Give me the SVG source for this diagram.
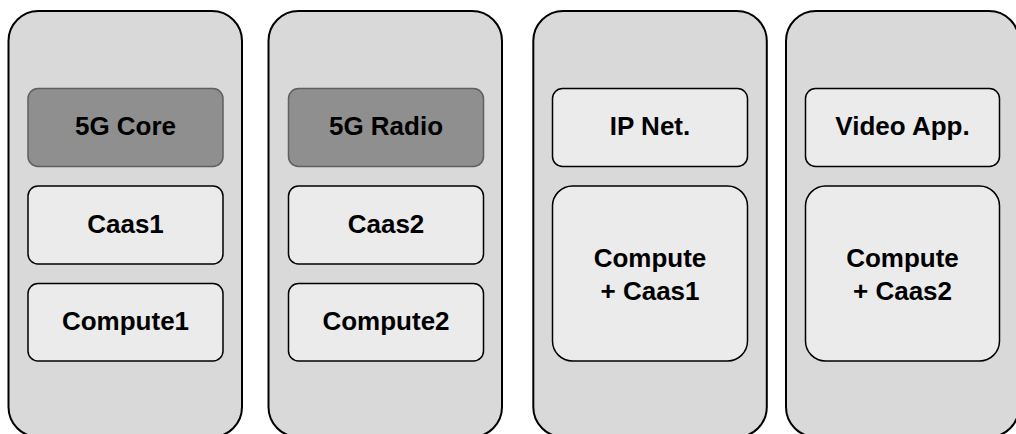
<svg xmlns="http://www.w3.org/2000/svg" width="1016" height="434" viewBox="0 0 1016 434">
<style>
.cont{fill:#d9d9d9;stroke:#000;stroke-width:2}
.dark{fill:#8f8f8f;stroke:#5f5f5f;stroke-width:1.5}
.light{fill:#ebebeb;stroke:#000;stroke-width:1.5}
.t{font-family:"Liberation Sans",Arial,sans-serif;font-weight:bold;font-size:26px;fill:#000;text-anchor:middle}
</style>
<rect width="1016" height="434" fill="#ffffff"/>
<g id="container1">
<rect class="cont" x="8.5" y="11" width="233.5" height="426" rx="30"/>
<g id="core5g"><rect class="dark" x="28" y="88.5" width="195" height="78" rx="10"/><text class="t" x="125.5" y="135">5G Core</text></g>
<g id="caas1"><rect class="light" x="28" y="186" width="195" height="78" rx="10"/><text class="t" x="125.5" y="233">Caas1</text></g>
<g id="compute1"><rect class="light" x="28" y="283.5" width="195" height="77.5" rx="10"/><text class="t" x="125.5" y="330">Compute1</text></g>
</g>
<g id="container2">
<rect class="cont" x="268.5" y="11" width="233.5" height="426" rx="30"/>
<g id="radio5g"><rect class="dark" x="288.5" y="88.5" width="195" height="78" rx="10"/><text class="t" x="386" y="135">5G Radio</text></g>
<g id="caas2"><rect class="light" x="288.5" y="186" width="195" height="78" rx="10"/><text class="t" x="386" y="233">Caas2</text></g>
<g id="compute2"><rect class="light" x="288.5" y="283.5" width="195" height="77.5" rx="10"/><text class="t" x="386" y="330">Compute2</text></g>
</g>
<g id="container3">
<rect class="cont" x="533.3" y="11" width="233.5" height="426" rx="30"/>
<g id="ipnet"><rect class="light" x="552.5" y="88.5" width="195" height="78" rx="10"/><text class="t" x="650" y="135">IP Net.</text></g>
<g id="computecaas1"><rect class="light" x="552.5" y="186" width="195" height="175" rx="20"/><text class="t" x="650" y="267">Compute</text><text class="t" x="650" y="299.5">+ Caas1</text></g>
</g>
<g id="container4">
<rect class="cont" x="786" y="11" width="233" height="426" rx="30"/>
<g id="videoapp"><rect class="light" x="805.5" y="88.5" width="194" height="78" rx="10"/><text class="t" x="902.5" y="135">Video App.</text></g>
<g id="computecaas2"><rect class="light" x="805.5" y="186" width="194" height="175" rx="20"/><text class="t" x="902.5" y="267">Compute</text><text class="t" x="902.5" y="299.5">+ Caas2</text></g>
</g>
<g id="connectors"></g>
</svg>
